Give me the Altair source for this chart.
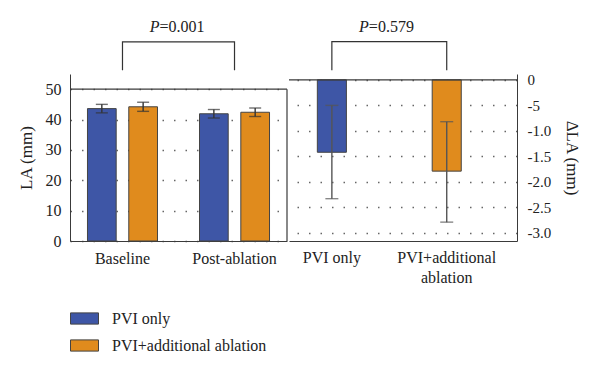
import altair as alt
import pandas as pd

# ---------------- data ----------------
groups = ["Baseline", "Post-ablation"]
series = ["PVI only", "PVI+additional ablation"]
colors = ["#3E56A6", "#E08B1D"]

# LA (mm): rows = groups, columns = series
la_mean = [[43.6, 44.2], [41.9, 42.4]]
la_err = [[1.4, 1.5], [1.4, 1.4]]

# delta LA (mm)
delta_mean = [-1.42, -1.79]
delta_hi = [-0.50, -0.82]
delta_lo = [-2.33, -2.79]

left_ticks = [0, 10, 20, 30, 40, 50]
right_ticks = [0, -0.5, -1.0, -1.5, -2.0, -2.5, -3.0]
right_tick_labels = ["0", "-5", "-1.0", "-1.5", "-2.0", "-2.5", "-3.0"]

p_left = "=0.001"
p_right = "=0.579"

# ---------------- tables ----------------
left_rows = []
for gi, g in enumerate(groups):
    for si, s in enumerate(series):
        m = la_mean[gi][si]
        e = la_err[gi][si]
        left_rows.append({"group": g, "series": s, "mean": m, "lo": m - e, "hi": m + e})
left_df = pd.DataFrame(left_rows)

right_df = pd.DataFrame({"series": series, "mean": delta_mean, "lo": delta_lo, "hi": delta_hi})

FONT = "Liberation Serif"
AX = "#3a3a3a"
W_L, W_R, H = 217, 228, 167

color = alt.Color("series:N", scale=alt.Scale(domain=series, range=colors),
                  legend=alt.Legend(title=None))

# ---------------- left panel ----------------
lx_axis = alt.Axis(title=None, labelAngle=0, ticks=False, domainColor=AX, labelPadding=9,
                   labelFontSize=16, labelFont=FONT, labelColor="#222")
lx_scale = alt.Scale(domain=groups, paddingInner=0.375, paddingOuter=0.156)
lxo = alt.XOffset("series:N", scale=alt.Scale(domain=series, paddingInner=0.305, paddingOuter=0))
lscale = alt.Scale(domain=[0, 55], nice=False, zero=False)
ly_axis = alt.Axis(title="LA (mm)", values=left_ticks, ticks=False, domainColor=AX,
                   labelFontSize=16, labelFont=FONT, labelColor="#222", labelPadding=9,
                   labelOverlap=False,
                   titleFont=FONT, titleFontSize=17, titleFontWeight="normal",
                   titleColor="#222", titlePadding=10,
                   grid=True, gridDash=[1.5, 10], gridColor="#666", gridWidth=1.3)


def LX():
    return alt.X("group:N", scale=lx_scale, axis=lx_axis)


def LY(field):
    return alt.Y(f"{field}:Q", scale=lscale, axis=ly_axis)


left_bars = alt.Chart(left_df).mark_bar(stroke="#444", strokeWidth=1).encode(
    x=LX(), xOffset=lxo, y=LY("mean"), color=color)
left_err = alt.Chart(left_df).mark_rule(color="#333", strokeWidth=1.4).encode(
    x=LX(), xOffset=lxo, y=LY("lo"), y2="hi:Q")
left_cap_hi = alt.Chart(left_df).mark_tick(color="#333", thickness=1.4, size=12, orient="horizontal").encode(
    x=LX(), xOffset=lxo, y=LY("hi"))
left_cap_lo = alt.Chart(left_df).mark_tick(color="#333", thickness=1.4, size=12, orient="horizontal").encode(
    x=LX(), xOffset=lxo, y=LY("lo"))
left_top = alt.Chart(pd.DataFrame({"v": [50]})).mark_rule(color=AX, strokeWidth=1.2).encode(y=LY("v"))
left_side = alt.Chart(pd.DataFrame({"a": [0], "b": [50]})).mark_rule(color=AX, strokeWidth=1.2).encode(
    x=alt.value(W_L), y=LY("a"), y2="b:Q")

lb_df = pd.DataFrame({"group": [groups[0], groups[0], groups[1], groups[1]],
                      "y": [56.2, 65.6, 65.6, 56.2], "o": [0, 1, 2, 3]})
left_bracket = alt.Chart(lb_df).mark_line(color="#333", strokeWidth=1.2).encode(
    x=LX(), y=LY("y"), order="o:Q")
lp_df = pd.DataFrame({"group": [groups[0]], "y": [70.6]})
left_pP = alt.Chart(lp_df).mark_text(text="P", fontStyle="italic", font=FONT, fontSize=16, align="right",
                                     baseline="middle", dx=37, color="#222").encode(x=LX(), y=LY("y"))
left_pv = alt.Chart(lp_df).mark_text(text=p_left, font=FONT, fontSize=16, align="left",
                                     baseline="middle", dx=37, color="#222").encode(x=LX(), y=LY("y"))

left = alt.layer(left_bars, left_err, left_cap_hi, left_cap_lo, left_top, left_side,
                 left_bracket, left_pP, left_pv).properties(width=W_L, height=H)

# ---------------- right panel ----------------
rx_axis = alt.Axis(title=None, labelAngle=0, ticks=False, domainColor=AX, labelPadding=8,
                   labelFontSize=16, labelFont=FONT, labelColor="#222", labelLineHeight=20,
                   labelExpr="datum.label == 'PVI+additional ablation' ? ['PVI+additional', 'ablation'] : datum.label")
rx_scale = alt.Scale(domain=series, paddingInner=0.747, paddingOuter=0.366, align=0.337)
rscale = alt.Scale(domain=[-3.16, 0.115], nice=False, zero=False)
label_expr = " : ".join(
    f"datum.value == {v} ? '{t}'" for v, t in zip(right_ticks, right_tick_labels)) + " : datum.label"
ry_axis = alt.Axis(title="ΔLA (mm)", orient="right", values=right_ticks, ticks=False,
                   domainColor=AX, labelFontSize=15, labelFont=FONT, labelColor="#222",
                   labelPadding=10, labelOverlap=False, labelExpr=label_expr,
                   titleFont=FONT, titleFontSize=17, titleFontWeight="normal", titleColor="#222",
                   titlePadding=12,
                   grid=True, gridDash=[1.5, 10], gridColor="#666", gridWidth=1.3)


def RX():
    return alt.X("series:N", scale=rx_scale, axis=rx_axis)


def RY(field):
    return alt.Y(f"{field}:Q", scale=rscale, axis=ry_axis)


right_bars = alt.Chart(right_df).mark_bar(stroke="#444", strokeWidth=1).encode(
    x=RX(), y=RY("mean"), color=color)
right_err = alt.Chart(right_df).mark_rule(color="#555", strokeWidth=1.4).encode(
    x=RX(), y=RY("lo"), y2="hi:Q")
right_cap_hi = alt.Chart(right_df).mark_tick(color="#555", thickness=1.4, size=13, orient="horizontal").encode(
    x=RX(), y=RY("hi"))
right_cap_lo = alt.Chart(right_df).mark_tick(color="#555", thickness=1.4, size=13, orient="horizontal").encode(
    x=RX(), y=RY("lo"))
right_top = alt.Chart(pd.DataFrame({"v": [0]})).mark_rule(color=AX, strokeWidth=1.2).encode(y=RY("v"))

rb_df = pd.DataFrame({"series": [series[0], series[0], series[1], series[1]],
                      "y": [0.188, 0.749, 0.749, 0.188], "o": [0, 1, 2, 3]})
right_bracket = alt.Chart(rb_df).mark_line(color="#333", strokeWidth=1.2).encode(
    x=RX(), y=RY("y"), order="o:Q")
rp_df = pd.DataFrame({"series": [series[0]], "y": [1.03]})
right_pP = alt.Chart(rp_df).mark_text(text="P", fontStyle="italic", font=FONT, fontSize=16, align="right",
                                      baseline="middle", dx=37, color="#222").encode(x=RX(), y=RY("y"))
right_pv = alt.Chart(rp_df).mark_text(text=p_right, font=FONT, fontSize=16, align="left",
                                      baseline="middle", dx=37, color="#222").encode(x=RX(), y=RY("y"))

right = alt.layer(right_bars, right_err, right_cap_hi, right_cap_lo, right_top,
                  right_bracket, right_pP, right_pv).properties(width=W_R, height=H)

chart = alt.hconcat(left, right, spacing=0).properties(
    padding={"left": 9, "top": 10, "right": 5, "bottom": 5}
).configure_view(stroke=None).configure_legend(
    orient="none", legendX=0, legendY=230,
    symbolType="M-1,-0.4H1V0.4H-1Z", symbolSize=784, symbolStrokeColor="#444", symbolStrokeWidth=1,
    symbolOpacity=1, labelFont=FONT, labelFontSize=16, labelColor="#222", labelOffset=13,
    rowPadding=4, padding=0,
)

chart.save("out.html", embed_options={"renderer": "svg", "actions": False})
